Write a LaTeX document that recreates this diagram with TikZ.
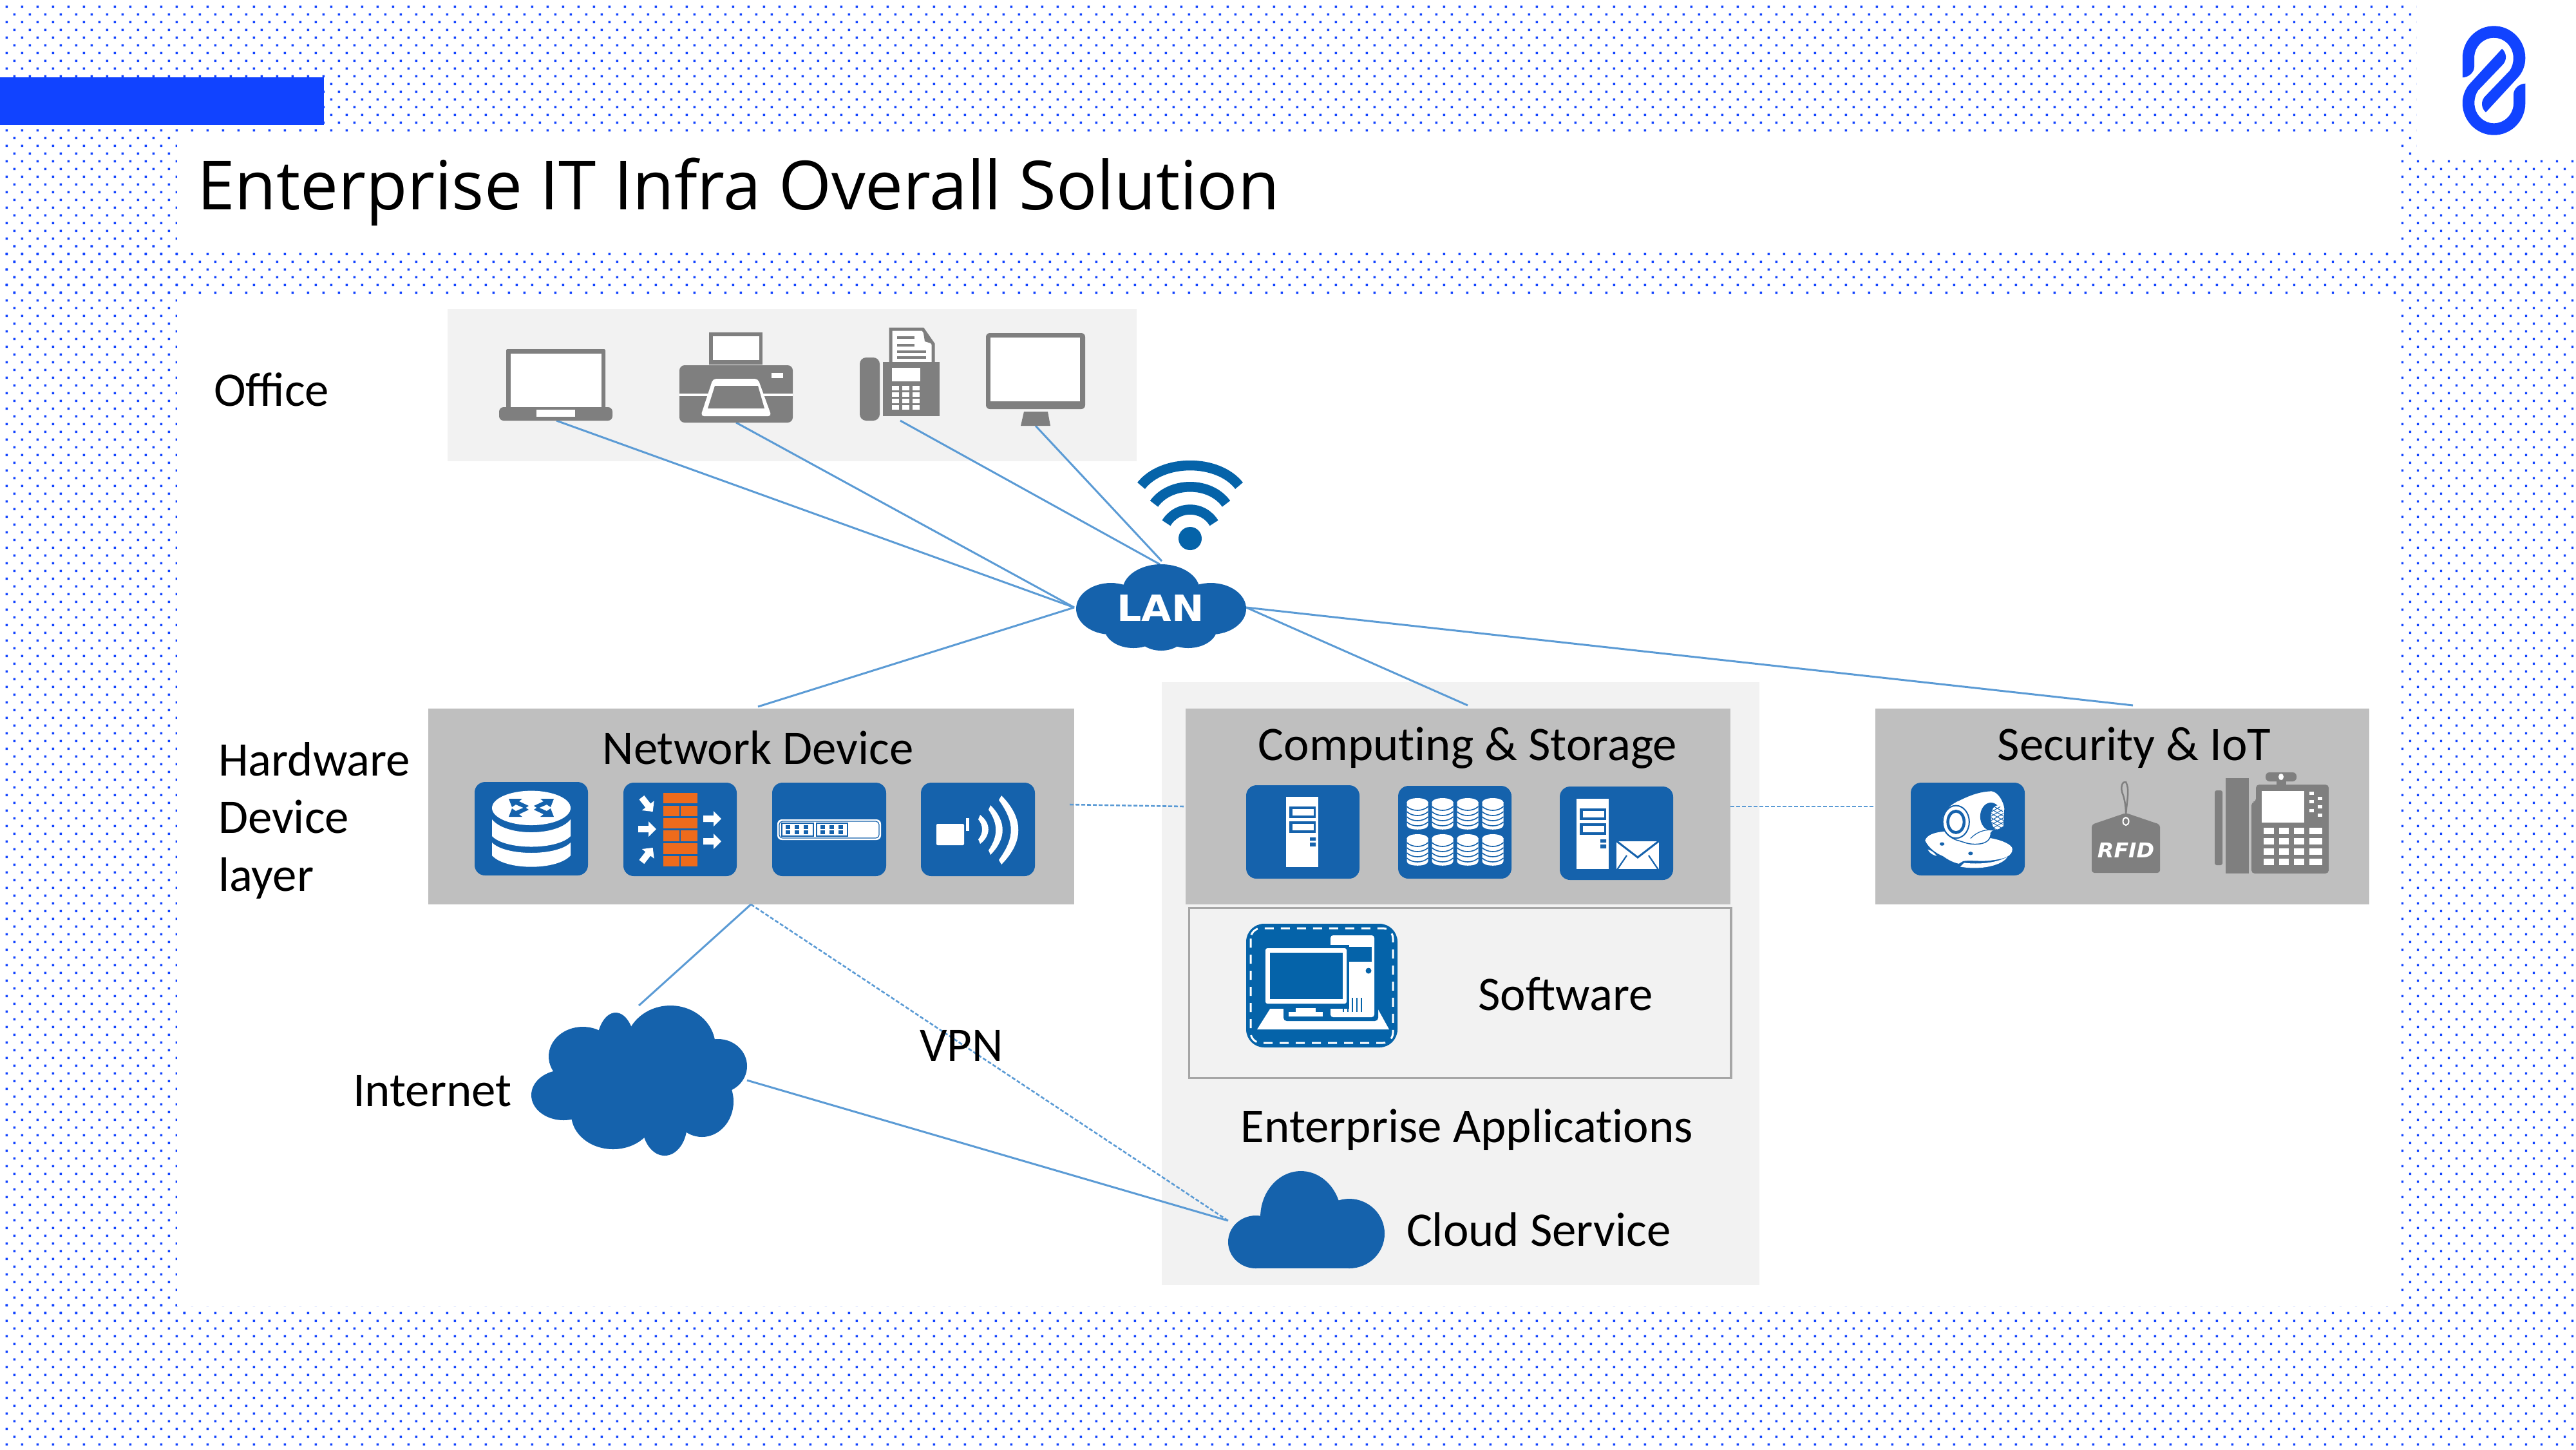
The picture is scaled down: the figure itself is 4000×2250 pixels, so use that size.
\documentclass[tikz,border=0pt]{standalone}
\usepackage{fontspec}
\usepackage{graphicx}
\setmainfont{Carlito}
\newfontfamily\titlefont{Open Sans}
\newfontfamily\heavyfont{DejaVu Sans}
\definecolor{dotblue}{HTML}{1143FF}
\definecolor{tileblue}{HTML}{1562AC}
\definecolor{softblue}{HTML}{0563A9}
\definecolor{panelgrey}{HTML}{BFBFBF}
\definecolor{panellight}{HTML}{F2F2F2}
\definecolor{icongrey}{HTML}{7F7F7F}
\definecolor{linkblue}{HTML}{5B9BD5}
\definecolor{brick}{HTML}{EE6B1C}
\newcommand{\dotband}[4]{%
  \foreach \r in {#3,...,#4}{%
    \ifodd\r \def\xo{20.7}\else\def\xo{8.7}\fi
    \pgfmathsetmacro{\yo}{8.7+12*\r}%
    \fill[dotblue] \foreach \c in {#1,...,#2}{ (\xo+24*\c,\yo) rectangle ++(3.3,3.3) };
  }%
}
\newcommand{\tile}[4]{\fill[tileblue,rounded corners=0.16cm] (#1,#2) rectangle (#3,#4);}
\newcommand{\srv}[2]{%
  \begin{scope}[shift={(#1,#2)}]
    \fill[white] (0,0) rectangle (50,109);
    \foreach \yy in {15,38}{\fill[tileblue] (5,\yy) rectangle (46,\yy+18); \fill[white] (10,\yy+4) rectangle (43,\yy+14);}
    \fill[tileblue] (37,63) rectangle (46,68) (37,71) rectangle (46,77);
  \end{scope}}
\newcommand{\stack}[2]{%
  \begin{scope}[shift={(#1,#2)}]
    \fill[white] (-16.5,6) -- (-16.5,42) .. controls (-16.5,51) and (16.5,51) .. (16.5,42) -- (16.5,6) -- cycle;
    \fill[white] (0,6.5) ellipse (16.5 and 6.5);
    \foreach \yy in {13,21,29,37}{\draw[tileblue,line width=0.016cm] (-16.5,\yy) .. controls (-8,\yy+8) and (8,\yy+8) .. (16.5,\yy);}
  \end{scope}}
\newcommand{\warrow}[3]{\fill[white,shift={(#1,#2)},rotate=#3] (-14,-5) -- (2,-5) -- (2,-12) -- (14,0) -- (2,12) -- (2,5) -- (-14,5) -- cycle;}
\newcommand{\routerarrow}[2]{\fill[tileblue,shift={(825,1254)},xscale=#1,yscale=#2] (-35,-14) -- (-14,-14) -- (-19,-10) -- (-4,-3) -- (-10,1) -- (-24,-5) -- (-30,-1) -- cycle;}
\tikzset{
  panel/.style={fill=panelgrey,inner sep=0pt,outer sep=0pt,draw=none},
  lab/.style={inner sep=0pt,outer sep=0pt,anchor=base,text=black,font=\fontsize{21.3}{25}\selectfont},
  labl/.style={lab,anchor=base west},
  link/.style={draw=linkblue,line width=0.03cm},
  dlink/.style={draw=linkblue,line width=0.026cm,dash pattern=on 0.06cm off 0.03cm},
  grey/.style={fill=icongrey},
}
\begin{document}
\begin{tikzpicture}[x=0.01cm,y=-0.01cm]
\useasboundingbox (0,0) rectangle (4000,2250);
\fill[white] (0,0) rectangle (4000,2250);
% dotted field
\dotband{0}{166}{0}{17}
\dotband{0}{166}{31}{37}
\dotband{0}{11}{18}{169}
\dotband{154}{166}{18}{169}
\dotband{0}{166}{168}{187}
% white panels
\fill[white] (275,208) rectangle (3727,388);
\fill[white] (275,460) rectangle (3727,2028);
\fill[white] (3753,0) rectangle (4000,245);
% blue bar
\fill[dotblue] (0,120) rectangle (503,194);
% logo
\foreach \ang in {0,180}{
\fill[dotblue,shift={(3872.5,125)},rotate=\ang] (-48.8,-4.7) -- (-48.8,-35) .. controls (-48.8,-62.4) and (-27,-84.7) .. (0,-84.7) .. controls (27,-84.7) and (48.8,-62.4) .. (48.8,-35) .. controls (48.8,-23) and (44,-12) .. (37.5,-5) -- (-12.5,49.3) .. controls (-19,44) and (-22,32) .. (-12.5,23.3) -- (24.2,-15) .. controls (28,-20) and (30.2,-27) .. (30.2,-35) .. controls (30.2,-52) and (17,-66.3) .. (0,-66.3) .. controls (-17,-66.3) and (-30.5,-52) .. (-30.5,-35) -- (-30.5,-21.7) .. controls (-30.5,-12) and (-40,-4.7) .. (-48.8,-4.7) -- cycle;
}
% title
\node[labl,font=\titlefont\fontsize{29.9}{36}\selectfont] (title) at (306,325) {Enterprise IT Infra Overall Solution};

% panels
\node[fill=panellight,inner sep=0pt,minimum width=9.28cm,minimum height=9.36cm] (entapp) at (2268,1527) {};
\node[fill=panellight,inner sep=0pt,minimum width=10.70cm,minimum height=2.36cm] (office) at (1230,598) {};
\node[panel,minimum width=10.03cm,minimum height=3.04cm] (netdev) at (1166.5,1252) {};
\node[panel,minimum width=8.46cm,minimum height=3.04cm] (compute) at (2264,1252) {};
\node[panel,minimum width=7.67cm,minimum height=3.04cm] (secure) at (3295.5,1252) {};
\node[draw=black!35,line width=0.035cm,inner sep=0pt,minimum width=8.41cm,minimum height=2.64cm] (software) at (2267,1541.5) {};

% connector end points
\coordinate (lanW) at (1668,943);
\coordinate (lanE) at (1935,943);
\coordinate (lanNa) at (1801,876);
\coordinate (lanNb) at (1804,871);
\coordinate (laptopS) at (864,653);
\coordinate (printerS) at (1143,656);
\coordinate (faxS) at (1398,653);
\coordinate (monitorS) at (1608,661);
\coordinate (netN) at (1177,1097);
\coordinate (compN) at (2279,1095);
\coordinate (secN) at (3312,1095);
\coordinate (netS) at (1166,1404);
\coordinate (netE) at (1661,1249);
\coordinate (compW) at (1841,1252);
\coordinate (compE) at (2687,1252);
\coordinate (secW) at (2912,1252);
\coordinate (inetN) at (992,1561);
\coordinate (inetE) at (1160,1677);
\coordinate (cloudW) at (1907,1895);

% connectors
\draw[link] (laptopS) -- (lanW);
\draw[link] (printerS) -- (lanW);
\draw[link] (faxS) -- (lanNa);
\draw[link] (monitorS) -- (lanNb);
\draw[link] (lanW) -- (netN);
\draw[link] (lanE) -- (compN);
\draw[link] (lanE) -- (secN);
\draw[dlink] (netE) -- (compW);
\draw[dlink] (compE) -- (secW);
\draw[link] (netS) -- (inetN);
\draw[dlink] (netS) -- (cloudW);
\draw[link] (inetE) -- (cloudW);

% office icons: laptop
\fill[icongrey,rounded corners=0.02cm] (786,542) rectangle (940,640);
\fill[white] (793,549) rectangle (934,632);
\fill[icongrey,rounded corners=0.07cm] (775,632) rectangle (951,653);
\fill[white] (833,636) rectangle (893,647);
% printer
\fill[icongrey] (1101,516) rectangle (1184,566);
\fill[white] (1107,522) rectangle (1179,559);
\fill[icongrey,rounded corners=0.08cm] (1055,567) rectangle (1231,656);
\fill[white] (1055,611) rectangle (1231,615);
\fill[white] (1198,579) rectangle (1216,587);
\fill[white,rounded corners=0.05cm] (1107,588) -- (1177,588) -- (1198,646) -- (1088,646) -- cycle;
\fill[icongrey] (1110,599) -- (1177,599) -- (1187,634) -- (1099,634) -- cycle;
% fax
\fill[icongrey,rounded corners=0.1cm] (1335,555) rectangle (1366,653);
\filldraw[fill=white,draw=icongrey,line width=0.05cm] (1383,562) -- (1383,511) -- (1433,511) -- (1449,534) -- (1449,562);
\fill[icongrey] (1433,511) -- (1449,534) -- (1436,530) -- cycle;
\fill[icongrey] (1393,522) rectangle (1420,526);
\fill[icongrey] (1393,534) rectangle (1420,538);
\fill[icongrey] (1393,544) rectangle (1438,548);
\fill[icongrey] (1393,553) rectangle (1438,557);
\fill[icongrey] (1371,562) rectangle (1459,646);
\fill[white] (1385,571) rectangle (1429,592);
\foreach \row in {0,1,2,3}{\foreach \col in {0,1,2}{\fill[white] (1385+16*\col,599+10*\row) rectangle ++(11,7);}}
% monitor
\fill[icongrey,rounded corners=0.06cm] (1531,517) rectangle (1685,635);
\fill[white] (1538,524) rectangle (1677,623);
\fill[icongrey] (1590,639) -- (1627,639) -- (1631,661) -- (1585,661) -- cycle;

% wifi
\begin{scope}[line width=0.155cm]
\draw[softblue] (1772,754) .. controls (1805,712) and (1891,712) .. (1924,754);
\draw[softblue] (1792,782) .. controls (1817,747) and (1879,747) .. (1904,782);
\draw[softblue] (1811,812) .. controls (1828,784) and (1868,784) .. (1885,812);
\end{scope}
\fill[softblue] (1848,836) circle (18);

% LAN cloud
\fill[tileblue] (1803,917) ellipse (60 and 41) (1725,945) ellipse (54 and 40) (1880,945) ellipse (55 and 40) (1760,975) ellipse (45 and 31) (1845,975) ellipse (45 and 31) (1803,980) ellipse (40 and 30) (1803,945) ellipse (90 and 40);
\node[inner sep=0pt,anchor=base,text=white,font=\heavyfont\bfseries\fontsize{16}{18}\selectfont] (lan) at (1802,964) {\scalebox{1.07}[1]{LAN}};

% network device icons
\tile{737}{1214}{913}{1359}
\fill[white] (764,1308) .. controls (785,1329.3) and (865,1329.3) .. (886,1308) -- (886,1328) .. controls (865,1351.6) and (785,1351.6) .. (764,1328) -- cycle;
\fill[white] (764,1272) .. controls (785,1298.7) and (865,1298.7) .. (886,1272) -- (886,1298) .. controls (865,1320) and (785,1320) .. (764,1298) -- cycle;
\fill[white] (825,1254.3) ellipse (61 and 26.7);
\routerarrow{1}{1}\routerarrow{-1}{1}\routerarrow{1}{-1}\routerarrow{-1}{-1}

\tile{968}{1215}{1144}{1360}
\foreach \yy/\hh in {1231/16,1270/16,1309/17}{\fill[brick] (1030,\yy) rectangle (1083,\yy+\hh);}
\foreach \yy/\hh in {1251/16,1289/17,1329/16}{\fill[brick] (1030,\yy) rectangle (1055,\yy+\hh); \fill[brick] (1057,\yy) rectangle (1083,\yy+\hh);}
\warrow{1005}{1249}{-52}
\warrow{1005}{1287}{0}
\warrow{1005}{1327}{52}
\warrow{1106}{1271}{0}
\warrow{1106}{1306}{0}

\tile{1199}{1215}{1376}{1360}
\fill[white,rounded corners=0.07cm] (1207,1272) rectangle (1368,1304);
\draw[tileblue,line width=0.012cm,rounded corners=0.05cm] (1210,1275) rectangle (1365,1301);
\draw[tileblue,line width=0.016cm] (1214,1278) rectangle (1263,1298);
\draw[tileblue,line width=0.016cm] (1268,1278) rectangle (1316,1298);
\foreach \ox in {1220,1274}{\foreach \col in {0,1,2}{
 \fill[tileblue] (\ox+14*\col,1281) rectangle ++(7,6);
 \fill[tileblue] (\ox+14*\col,1289) rectangle ++(7,6);}}

\tile{1430}{1215}{1607}{1360}
\fill[white,rounded corners=0.02cm] (1454,1279) rectangle (1497,1312);
\fill[white] (1500,1270) rectangle (1505,1290);
\fill[white] (1555,1235) .. controls (1590,1270) and (1590,1307) .. (1555,1342) -- (1551,1335) .. controls (1576,1300) and (1576,1277) .. (1551,1242) -- cycle;
\fill[white] (1538,1250) .. controls (1563,1275) and (1563,1302) .. (1538,1327) -- (1535,1320) .. controls (1550,1298) and (1550,1279) .. (1535,1257) -- cycle;
\fill[white] (1522,1265) .. controls (1539,1278) and (1539,1297) .. (1522,1310) -- (1519,1303) .. controls (1527,1294) and (1527,1281) .. (1519,1272) -- cycle;

% computing icons
\tile{1935}{1219}{2111}{1364}
\srv{1997}{1237}
\tile{2171}{1220}{2347}{1364}
\foreach \cx in {2201,2240,2279,2318}{\stack{\cx}{1239}\stack{\cx}{1295}}
\tile{2422}{1221}{2598}{1366}
\srv{2448}{1240}
\fill[white] (2510,1306) rectangle (2576,1349);
\draw[tileblue,line width=0.03cm] (2508,1304) -- (2543,1331) -- (2578,1304);
\draw[tileblue,line width=0.022cm] (2511,1350) -- (2526,1328);
\draw[tileblue,line width=0.022cm] (2575,1350) -- (2560,1328);

% software icon
\fill[softblue,rounded corners=0.28cm] (1935,1434) rectangle (2170,1626);
\draw[white,line width=0.03cm,rounded corners=0.16cm,dash pattern=on 0.14cm off 0.11cm] (1942,1441) rectangle (2163,1619);
\fill[white] (1976,1560) -- (1952,1598) -- (2157,1598) -- (2136,1560) -- cycle;
\fill[softblue,rounded corners=0.05cm] (1993,1550) rectangle (2140,1585);
\fill[white,rounded corners=0.04cm] (2066,1452) rectangle (2134,1579);
\fill[softblue] (2090,1470) rectangle (2130,1493);
\fill[softblue] (2125,1507) circle (4.5);
\foreach \xx in {2085,2092,2099,2106,2113}{\fill[softblue] (\xx,1549) rectangle ++(2,22);}
\fill[softblue] (1961,1467) rectangle (2095,1566);
\fill[white,rounded corners=0.03cm] (1965,1472) rectangle (2091,1558);
\fill[softblue] (1972,1479) rectangle (2085,1551);
\fill[white] (2012,1565) rectangle (2043,1571);
\fill[white] (2001,1571) rectangle (2054,1578);

% security icons
\tile{2967}{1215}{3144}{1359}
\begin{scope}[shift={(2960,1205)},x=0.00333cm,y=-0.00333cm]
\fill[white] (88,300) .. controls (95,275) and (130,262) .. (175,258) -- (400,290) .. controls (450,300) and (495,320) .. (495,340) .. controls (495,372) and (460,385) .. (400,392) .. controls (350,400) and (300,390) .. (265,396) -- (245,408) .. controls (210,400) and (190,385) .. (170,372) .. controls (140,360) and (105,335) .. (88,300) -- cycle;
\fill[white] (252,422) -- (270,404) .. controls (340,412) and (420,405) .. (472,376) .. controls (450,415) and (350,440) .. (252,422) -- cycle;
\fill[white] (100,342) .. controls (115,345) and (130,355) .. (142,372) .. controls (125,368) and (110,360) .. (100,342) -- cycle;
\fill[tileblue] (167,316) ellipse (11 and 8) (300,360) ellipse (11 and 8);
\filldraw[fill=white,draw=tileblue,line width=0.015cm] (165,205) .. controls (170,160) and (210,125) .. (250,110) .. controls (300,85) and (350,68) .. (400,68) .. controls (430,72) and (455,115) .. (460,150) -- (455,235) .. controls (430,250) and (400,250) .. (395,265) .. controls (395,290) and (380,312) .. (340,316) .. controls (300,320) and (280,312) .. (250,302) .. controls (200,292) and (165,250) .. (165,205) -- cycle;
\draw[tileblue,line width=0.02cm] (232,213) ellipse (62 and 76);
\draw[tileblue,line width=0.045cm] (232,213) ellipse (38 and 50);
\fill[white] (232,213) ellipse (26 and 34);
\fill[tileblue] (395,188) ellipse (50 and 65);
\fill[white] (425,192) ellipse (30 and 56);
\begin{scope}
\clip (425,192) ellipse (30 and 56);
\foreach \tt in {-40,-20,...,60}{\draw[tileblue,line width=0.01cm] (390,150+\tt) -- (460,190+\tt); \draw[tileblue,line width=0.01cm] (390,190+\tt) -- (460,150+\tt);}
\end{scope}
\draw[tileblue,line width=0.012cm] (300,290) .. controls (330,260) and (360,250) .. (395,250);
\end{scope}
% RFID tag
\draw[icongrey,line width=0.025cm] (3301,1265) .. controls (3303,1240) and (3307,1225) .. (3301,1214) .. controls (3296,1212) and (3291,1222) .. (3297,1235) .. controls (3300,1245) and (3301,1255) .. (3301,1265);
\fill[icongrey,rounded corners=0.04cm] (3301,1262) -- (3354,1280) -- (3354,1355) -- (3248,1355) -- (3248,1280) -- cycle;
\draw[white,line width=0.02cm] (3301,1275) ellipse (4.5 and 6);
\node[inner sep=0pt,anchor=base,text=white,font=\heavyfont\bfseries\itshape\fontsize{9}{11}\selectfont] (rfidtext) at (3301,1331) {\scalebox{1.05}[1]{RFID}};
% IP phone
\fill[icongrey,rounded corners=0.03cm] (3439,1227) rectangle (3451,1343);
\fill[icongrey] (3456,1208) rectangle (3492,1356);
\fill[icongrey,rounded corners=0.05cm] (3496,1356) -- (3496,1245) -- (3503,1245) -- (3503,1218) -- (3616,1218) -- (3616,1356) -- cycle;
\fill[icongrey] (3535,1208) rectangle (3550,1220);
\fill[icongrey,rounded corners=0.06cm] (3518,1199) rectangle (3566,1213);
\fill[white] (3542,1206) ellipse (4 and 5);
\fill[white] (3512,1228) rectangle (3578,1277);
\foreach \xa/\ya in {3586/1229,3599/1237,3586/1242,3599/1250,3586/1256,3599/1263}{\fill[white] (\xa,\ya) rectangle ++(7,5);}
\foreach \ya in {1285,1301,1317,1333}{
  \fill[white] (3515,\ya) rectangle ++(16,10);
  \fill[white] (3539,\ya) rectangle ++(15,10);
  \fill[white] (3562,\ya) rectangle ++(16,10);
  \fill[white] (3586,\ya) rectangle ++(20,10);}

% Cloud shapes
\fill[tileblue] (1041,1625) ellipse (70 and 64) (956,1625) ellipse (30 and 53) (905,1640) ellipse (53 and 46) (875,1700) ellipse (50 and 39) (952,1730) ellipse (65 and 54) (1032,1745) ellipse (35 and 49) (1090,1710) ellipse (49 and 55) (1115,1655) ellipse (45 and 42) (1000,1680) ellipse (100 and 80);
\fill[tileblue] (2020,1890) ellipse (63 and 72) (2095,1915) ellipse (55 and 54) (1950,1928) ellipse (43 and 41);
\fill[tileblue] (1950,1925) rectangle (2095,1969);

% labels
\node[labl] (officelab) at (332,630) {Office};
\node[labl] (hwa) at (339,1204) {Hardware};
\node[labl] (hwb) at (339,1293) {Device};
\node[labl] (hwc) at (339,1383) {layer};
\node[lab] (netlab) at (1177,1186) {Network Device};
\node[lab] (complab) at (2279,1180) {Comput\kern0pt ing \& Storage};
\node[lab] (seclab) at (3314,1180) {Security \& IoT};
\node[lab] (softlab) at (2431,1568) {Software};
\node[lab] (entlab) at (2278,1773) {Enterprise Applicat\kern0pt ions};
\node[labl] (cloudlab) at (2184,1934) {Cloud Service};
\node[labl] (inetlab) at (548,1717) {Internet};
\node[labl] (vpnlab) at (1428,1647) {VPN};
\end{tikzpicture}
\end{document}
